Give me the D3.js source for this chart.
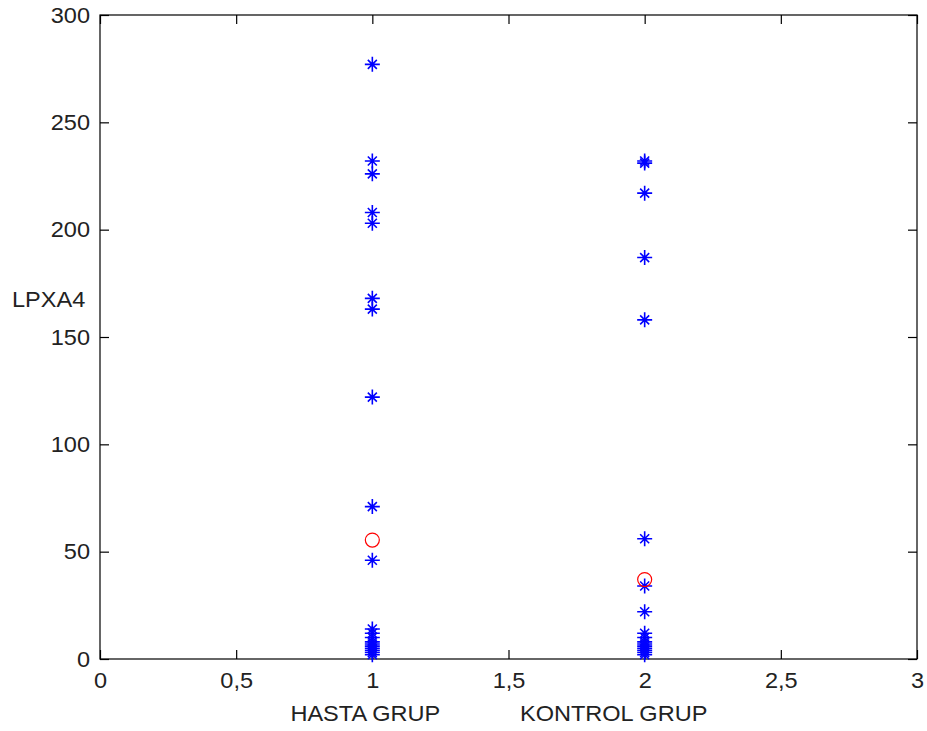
<!DOCTYPE html>
<html><head><meta charset="utf-8">
<script src="https://cdn.jsdelivr.net/npm/d3@7"></script>
<style>body{margin:0;background:#fff}svg{display:block}text{font-family:"Liberation Sans",Arial,sans-serif;fill:#222}</style>
</head><body><div id="chart"></div>
<script>
const groupLabels = ["HASTA GRUP", "KONTROL GRUP"];
const groupX = [1, 2];
const hastaValues = [277, 232, 226, 208, 203, 168, 163, 122, 71, 46, 14, 12, 10, 8, 7, 6, 5, 4, 3, 2];
const kontrolValues = [232, 231, 217, 187, 158, 56, 34, 22, 12, 10, 8, 7, 6, 5, 4, 3, 2];
const groupMarks = [55.4, 37];
const xTicks = [0, 0.5, 1, 1.5, 2, 2.5, 3];
const yTicks = [0, 50, 100, 150, 200, 250, 300];
const yLabel = "LPXA4";

const W = 927, H = 731;
const m = {left: 100, right: 10, top: 15, bottom: 72};
const svg = d3.select("#chart").append("svg").attr("width", W).attr("height", H);
const x = d3.scaleLinear().domain([0, 3]).range([m.left, W - m.right]);
const y = d3.scaleLinear().domain([0, 300]).range([H - m.bottom, m.top]);
const fmt = d => String(d).replace(".", ",");
const tl = 9;
const sx = 1.07;

svg.append("rect").attr("x", x(0)).attr("y", y(300)).attr("width", x(3) - x(0)).attr("height", y(0) - y(300))
  .attr("fill", "none").attr("stroke", "#000").attr("stroke-width", 1.2);

const xb = svg.append("g").attr("transform", `translate(0,${y(0)})`)
  .call(d3.axisBottom(x).tickValues(xTicks).tickFormat(fmt).tickSizeInner(-tl).tickSizeOuter(0).tickPadding(13));
const xt = svg.append("g").attr("transform", `translate(0,${y(300)})`)
  .call(d3.axisTop(x).tickValues(xTicks).tickFormat("").tickSizeInner(-tl).tickSizeOuter(0));
const yl = svg.append("g").attr("transform", `translate(${x(0)},0)`)
  .call(d3.axisLeft(y).tickValues(yTicks).tickFormat(d => d).tickSizeInner(-tl).tickSizeOuter(0).tickPadding(10));
const yr = svg.append("g").attr("transform", `translate(${x(3)},0)`)
  .call(d3.axisRight(y).tickValues(yTicks).tickFormat("").tickSizeInner(-tl).tickSizeOuter(0));
[xb, xt, yl, yr].forEach(a => {
  a.select(".domain").remove();
  a.selectAll("line").attr("stroke", "#000").attr("stroke-width", 1.2);
  a.selectAll("text").attr("font-size", 22).attr("fill", "#222")
    .attr("font-family", '"Liberation Sans",Arial,sans-serif')
    .attr("transform", `scale(${sx},1)`);
});
yl.selectAll("text").attr("x", -10 / sx);

svg.selectAll(".glab").data(groupLabels).enter().append("text")
  .attr("transform", (d, i) => `translate(${x(groupX[i]) + [-7, -31][i]},721) scale(${sx},1)`)
  .attr("text-anchor", "middle").attr("font-size", 22).text(d => d);

svg.append("text").attr("transform", `translate(12,307) scale(${sx},1)`).attr("font-size", 22).text(yLabel);

const starPath = (cx, cy) => {
  const a = 7.5, b = 4.5;
  return `M${cx - a},${cy}H${cx + a}M${cx},${cy - a}V${cy + a}M${cx - b},${cy - b}L${cx + b},${cy + b}M${cx - b},${cy + b}L${cx + b},${cy - b}`;
};
const pts = [];
hastaValues.forEach(v => pts.push([groupX[0], v]));
kontrolValues.forEach(v => pts.push([groupX[1], v]));
svg.append("g").selectAll("path").data(pts).enter().append("path")
  .attr("d", d => starPath(x(d[0]), y(d[1])))
  .attr("stroke", "#0000ff").attr("stroke-width", 1.6).attr("fill", "none");

svg.append("g").selectAll("circle").data(groupMarks).enter().append("circle")
  .attr("cx", (d, i) => x(groupX[i])).attr("cy", d => y(d)).attr("r", 7)
  .attr("fill", "none").attr("stroke", "#ff0000").attr("stroke-width", 1.2);
</script></body></html>
